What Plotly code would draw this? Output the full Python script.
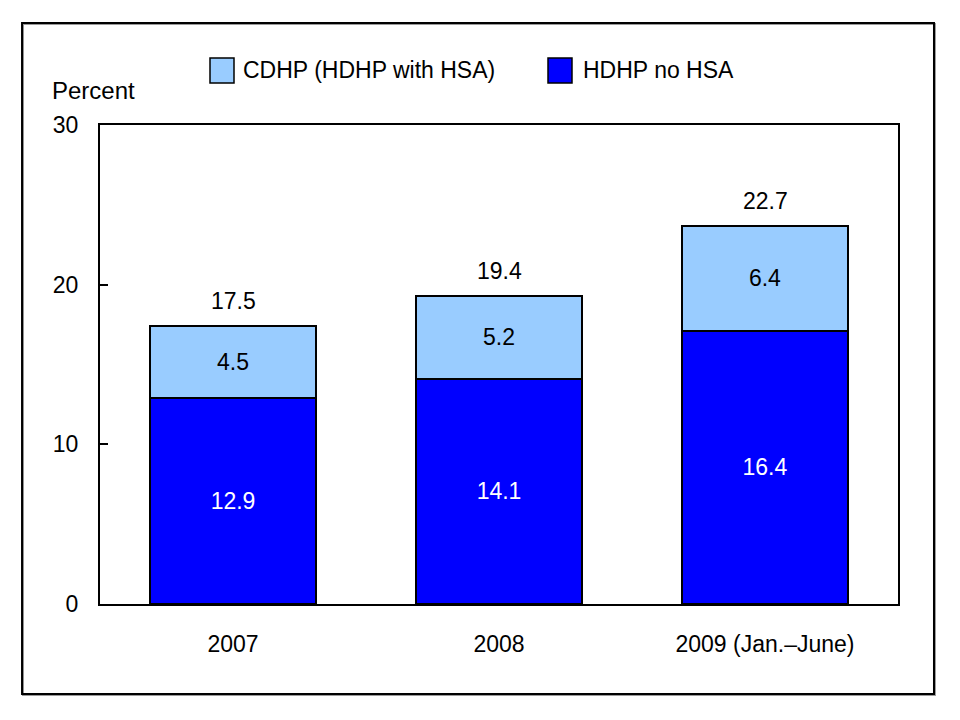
import plotly.graph_objects as go

categories = ["2007", "2008", "2009 (Jan.\u2013June)"]
hdhp_no_hsa = [12.9, 14.1, 17.1]
cdhp = [4.5, 5.2, 6.6]
hdhp_labels = ["12.9", "14.1", "16.4"]
cdhp_labels = ["4.5", "5.2", "6.4"]
total_labels = ["17.5", "19.4", "22.7"]
y_ticks = [0, 10, 20, 30]

FONT = "Liberation Sans, Arial, Helvetica, sans-serif"
FS = 23
DARK = "#0000FF"
LIGHT = "#99CCFF"

xpos = list(range(len(categories)))

fig = go.Figure()
fig.add_trace(go.Bar(
    x=xpos, y=hdhp_no_hsa, name="HDHP no HSA", width=0.625,
    marker=dict(color=DARK, line=dict(color="black", width=2)),
    text=hdhp_labels, textposition="inside", insidetextanchor="middle",
    textfont=dict(color="white", size=FS, family=FONT), textangle=0,
    showlegend=False, hoverinfo="skip",
))
fig.add_trace(go.Bar(
    x=xpos, y=cdhp, name="CDHP (HDHP with HSA)", width=0.625,
    marker=dict(color=LIGHT, line=dict(color="black", width=2)),
    text=cdhp_labels, textposition="inside", insidetextanchor="middle",
    textfont=dict(color="black", size=FS, family=FONT), textangle=0,
    showlegend=False, hoverinfo="skip",
))

totals = [a + b for a, b in zip(hdhp_no_hsa, cdhp)]
for xp, tot, lab in zip(xpos, totals, total_labels):
    fig.add_annotation(x=xp, y=tot, text=lab, showarrow=False,
                       yanchor="middle", yshift=25,
                       font=dict(size=FS, color="black", family=FONT))

# outer frame
fig.add_shape(type="rect", xref="paper", yref="paper",
              x0=-0.0965, x1=1.0463, y0=-0.1900, y1=1.2108,
              line=dict(color="#999999", width=2), layer="below")
fig.add_shape(type="rect", xref="paper", yref="paper",
              x0=-0.0977, x1=1.0451, y0=-0.1879, y1=1.2129,
              line=dict(color="black", width=2), layer="below")

# legend
legend_items = [("CDHP (HDHP with HSA)", LIGHT, 210, 243),
                ("HDHP no HSA", DARK, 548, 583)]
for label, color, sx, tx in legend_items:
    fig.add_shape(type="rect", xref="paper", yref="paper",
                  x0=(sx - 100) / 798, x1=(sx + 24 - 100) / 798,
                  y0=(604 - 83) / 479, y1=(604 - 58) / 479,
                  fillcolor=color, line=dict(color="black", width=1.5))
    fig.add_annotation(xref="paper", yref="paper", x=(tx - 100) / 798,
                       y=(604 - 70) / 479, text=label, showarrow=False,
                       xanchor="left", yanchor="middle", xshift=-2,
                       font=dict(size=FS, color="black", family=FONT))

fig.add_annotation(xref="paper", yref="paper", x=(52 - 100) / 798,
                   y=(604 - 91) / 479, text="Percent", showarrow=False,
                   xanchor="left", yanchor="middle", xshift=-2,
                   font=dict(size=24, color="black", family=FONT))

fig.update_layout(
    width=952, height=712,
    margin=dict(l=92, r=62, t=117, b=116),
    paper_bgcolor="white", plot_bgcolor="white",
    barmode="stack",
    font=dict(family=FONT, size=FS, color="black"),
)
fig.update_xaxes(range=[-0.5, len(categories) - 0.5], tickvals=xpos,
                 ticktext=categories, showline=True, linecolor="black",
                 linewidth=2, mirror=True, zeroline=False,
                 ticks="", showgrid=False, ticklabelstandoff=18,
                 tickfont=dict(size=FS, family=FONT))
fig.update_yaxes(range=[0, 30], tickvals=y_ticks, showline=True,
                 linecolor="black", linewidth=2, mirror=True,
                 ticks="inside", ticklen=8, tickwidth=2, tickcolor="black",
                 showgrid=False, zeroline=False, ticklabelstandoff=15,
                 tickfont=dict(size=FS, family=FONT))

fig.write_html("out.html")
